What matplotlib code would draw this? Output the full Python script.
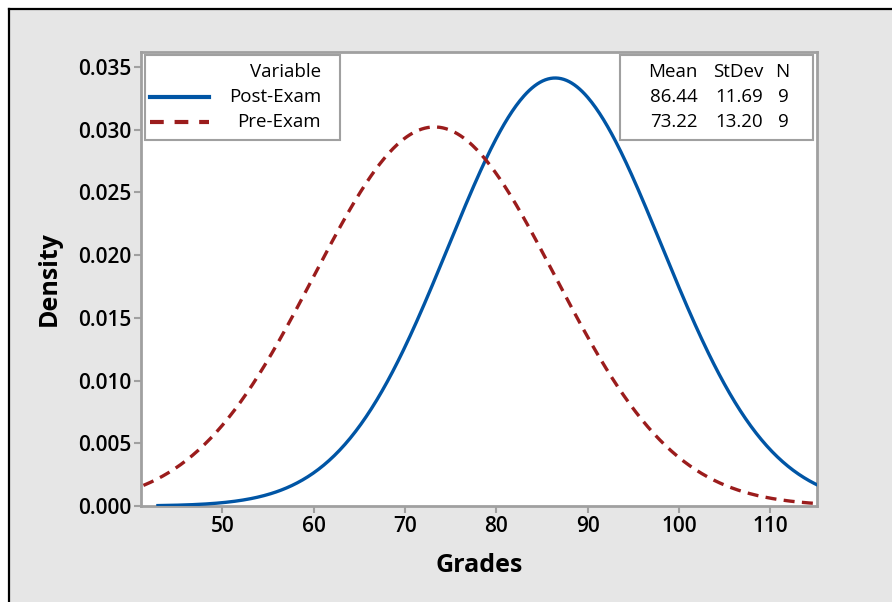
import numpy as np
import matplotlib
matplotlib.use('Agg')
from matplotlib import pyplot as plt
from matplotlib.patches import Rectangle
from matplotlib.lines import Line2D

plt.rcParams['font.family'] = ['Open Sans', 'DejaVu Sans']

# summary statistics of the two samples
variables = ['Post-Exam', 'Pre-Exam']
means = [86.44, 73.22]
stdevs = [11.69, 13.20]
counts = [9, 9]
colors = ['#0055a5', '#9b1c1c']
styles = ['-', (0, (3.3, 2.2))]

x_ticks = [50, 60, 70, 80, 90, 100, 110]
y_ticks = [0.000, 0.005, 0.010, 0.015, 0.020, 0.025, 0.030, 0.035]

fig = plt.figure(figsize=(8.92, 6.02), dpi=100, facecolor='white')

# grey panel with black frame on top/left
W, H = 892, 602
fig.patches.append(Rectangle((9/W, 0), 1, 1 - 9/H, transform=fig.transFigure,
                             facecolor='#e6e6e6', edgecolor='none', zorder=-10))
fig.lines.append(Line2D([9/W, 1], [1 - 9/H, 1 - 9/H], transform=fig.transFigure,
                        color='black', lw=1.6))
fig.lines.append(Line2D([9/W, 9/W], [0, 1 - 9/H], transform=fig.transFigure,
                        color='black', lw=1.6))

ax = fig.add_axes([141/W, 1 - 506/H, (817-141)/W, (506-52)/H])
ax.set_facecolor('white')

# fitted normal curves
for m, s, c, ls in zip(means, stdevs, colors, styles):
    xs = np.linspace(m - 3.72*s, m + 3.72*s, 600)
    ys = np.exp(-0.5*((xs - m)/s)**2) / (s*np.sqrt(2*np.pi))
    ax.plot(xs, ys, color=c, lw=2.4, linestyle=ls, zorder=3)

ax.set_xlim(41.1, 115.1)
ax.set_ylim(0, 0.0362)
ax.set_xticks(x_ticks)
ax.set_yticks(y_ticks)
ax.set_yticklabels(['%.3f' % v for v in y_ticks])

for sp in ax.spines.values():
    sp.set_color('#a0a0a0')
    sp.set_linewidth(2)
ax.tick_params(direction='out', length=5, width=1.5, color='#a0a0a0',
               labelsize=15, pad=2)
for lab in ax.get_xticklabels() + ax.get_yticklabels():
    lab.set_fontweight('semibold')

ax.set_xlabel('Grades', fontsize=18, fontweight='bold', labelpad=12)
ax.set_ylabel('Density', fontsize=18, fontweight='bold', labelpad=12)

# legend box drawn by hand (right aligned labels)
def ax_xy(px, py):
    return ((px - 141) / (817 - 141), (506 - py) / (506 - 52))

fs = 13.5
x0, y0 = ax_xy(145, 140)
x1, y1 = ax_xy(340, 55)
ax.add_patch(Rectangle((x0, y0), x1 - x0, y1 - y0, transform=ax.transAxes,
                       facecolor='white', edgecolor='#a0a0a0', lw=1.5, zorder=5))
tx, ty = ax_xy(321, 72)
ax.text(tx, ty, 'Variable', transform=ax.transAxes, ha='right', va='center',
        fontsize=fs, fontweight='medium', zorder=6)
for i, (name, c, ls) in enumerate(zip(variables, colors, styles)):
    _, yy = ax_xy(0, 97 + 25*i)
    hx0, _ = ax_xy(150, 0)
    hx1, _ = ax_xy(209, 0)
    ax.add_line(Line2D([hx0, hx1], [yy, yy], transform=ax.transAxes, color=c,
                       lw=3, linestyle=(0, (3.3, 2.6)) if i else '-', zorder=6))
    ax.text(tx, yy, name, transform=ax.transAxes, ha='right', va='center',
            fontsize=fs, fontweight='medium', zorder=6)

# statistics table
x0, y0 = ax_xy(620, 140)
x1, y1 = ax_xy(813, 55)
ax.add_patch(Rectangle((x0, y0), x1 - x0, y1 - y0, transform=ax.transAxes,
                       facecolor='white', edgecolor='#a0a0a0', lw=1.5, zorder=5))
col_x = [ax_xy(698, 0)[0], ax_xy(763, 0)[0], ax_xy(789, 0)[0]]
headers = ['Mean', 'StDev', 'N']
_, hy = ax_xy(0, 72)
for cx, h in zip(col_x, headers):
    ax.text(cx, hy, h, transform=ax.transAxes, ha='right', va='center',
            fontsize=fs, fontweight='medium', zorder=6)
for i in range(len(variables)):
    _, yy = ax_xy(0, 97 + 25*i)
    vals = ['%.2f' % means[i], '%.2f' % stdevs[i], '%d' % counts[i]]
    for cx, v in zip(col_x, vals):
        ax.text(cx, yy, v, transform=ax.transAxes, ha='right', va='center',
                fontsize=fs, fontweight='medium', zorder=6)

fig.savefig('out.png', dpi=100, facecolor=fig.get_facecolor())
